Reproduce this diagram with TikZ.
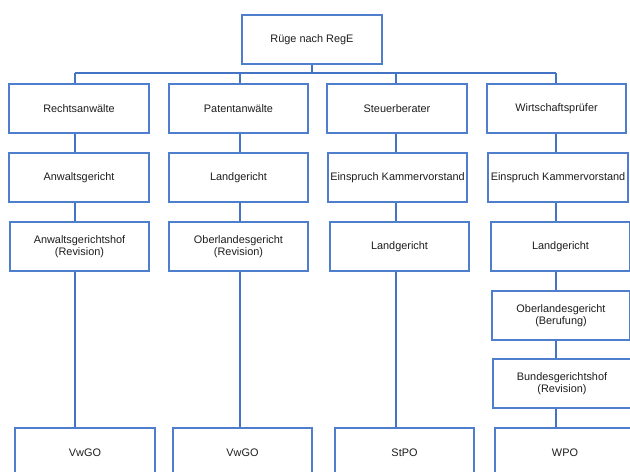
\documentclass[tikz,border=0pt]{standalone}
\usepackage{fontspec}
\setmainfont{Liberation Sans}
\definecolor{linkblue}{HTML}{4472C4}
\definecolor{boxblue}{HTML}{4F7FCC}
\definecolor{labelgray}{HTML}{1E1E1E}
\tikzset{
  orgbox/.style={draw=boxblue, line width=1.1bp, fill=white, rectangle,
    minimum height=49bp, inner sep=0pt, align=center, text=labelgray,
    font=\fontsize{10.9bp}{12bp}\selectfont},
  link/.style={draw=linkblue, line width=2.2bp}
}
\begin{document}
\begin{tikzpicture}[x=1bp, y=-1bp]
\useasboundingbox (0,0) rectangle (630,472);
\clip (0,0) rectangle (630,472);
\fill[white] (0,0) rectangle (630,472);

% stem columns and the distribution bus
\coordinate (s0) at (312,0);
\coordinate (s1) at (75,0);
\coordinate (s2) at (240,0);
\coordinate (s3) at (396,0);
\coordinate (s4) at (556,0);
\coordinate (bus) at (0,73);

% root
\node[orgbox, minimum width=140bp] (root) at (312,39.5) {Rüge nach RegE};

% first level
\node[orgbox, minimum width=140bp] (a1) at (79,108.5) {Rechtsanwälte};
\node[orgbox, minimum width=139bp] (b1) at (238.5,108.5) {Patentanwälte};
\node[orgbox, minimum width=140bp] (c1) at (397,108.5) {Steuerberater};
\node[orgbox, minimum width=139bp] (d1) at (556.5,108.5) {Wirtschaftsprüfer};

% second level
\node[orgbox, minimum width=140bp] (a2) at (79,177.5) {Anwaltsgericht};
\node[orgbox, minimum width=139bp] (b2) at (238.5,177.5) {Landgericht};
\node[orgbox, minimum width=139bp] (c2) at (397.5,177.5) {Einspruch Kammervorstand};
\node[orgbox, minimum width=140bp] (d2) at (558,177.5) {Einspruch Kammervorstand};

% third level
\node[orgbox, minimum width=139bp] (a3) at (79.5,246.5) {Anwaltsgerichtshof\\(Revision)};
\node[orgbox, minimum width=139bp] (b3) at (238.5,246.5) {Oberlandesgericht\\(Revision)};
\node[orgbox, minimum width=139bp] (c3) at (399.5,246.5) {Landgericht};
\node[orgbox, minimum width=139bp] (d3) at (560.5,246.5) {Landgericht};

% further instances for the Wirtschaftsprüfer
\node[orgbox, minimum width=138bp] (d4) at (561,315.5) {Oberlandesgericht\\(Berufung)};
\node[orgbox, minimum width=138bp] (d5) at (562,383.5) {Bundesgerichtshof\\(Revision)};

% procedural codes
\node[orgbox, minimum width=140bp] (a6) at (85,452.5) {VwGO};
\node[orgbox, minimum width=139bp] (b6) at (242.5,452.5) {VwGO};
\node[orgbox, minimum width=139bp] (c6) at (404.5,452.5) {StPO};
\node[orgbox, minimum width=140bp] (d6) at (565,452.5) {WPO};

% connectors
\draw[link] (root.south -| s0) -- (bus -| s0);
\draw[link] (bus -| s1) -- (bus -| s4);
\draw[link] (bus -| s1) -- (a1.north -| s1);
\draw[link] (bus -| s2) -- (b1.north -| s2);
\draw[link] (bus -| s3) -- (c1.north -| s3);
\draw[link] (bus -| s4) -- (d1.north -| s4);

\draw[link] (a1.south -| s1) -- (a2.north -| s1);
\draw[link] (a2.south -| s1) -- (a3.north -| s1);
\draw[link] (a3.south -| s1) -- (a6.north -| s1);

\draw[link] (b1.south -| s2) -- (b2.north -| s2);
\draw[link] (b2.south -| s2) -- (b3.north -| s2);
\draw[link] (b3.south -| s2) -- (b6.north -| s2);

\draw[link] (c1.south -| s3) -- (c2.north -| s3);
\draw[link] (c2.south -| s3) -- (c3.north -| s3);
\draw[link] (c3.south -| s3) -- (c6.north -| s3);

\draw[link] (d1.south -| s4) -- (d2.north -| s4);
\draw[link] (d2.south -| s4) -- (d3.north -| s4);
\draw[link] (d3.south -| s4) -- (d4.north -| s4);
\draw[link] (d4.south -| s4) -- (d5.north -| s4);
\draw[link] (d5.south -| s4) -- (d6.north -| s4);
\end{tikzpicture}
\end{document}
